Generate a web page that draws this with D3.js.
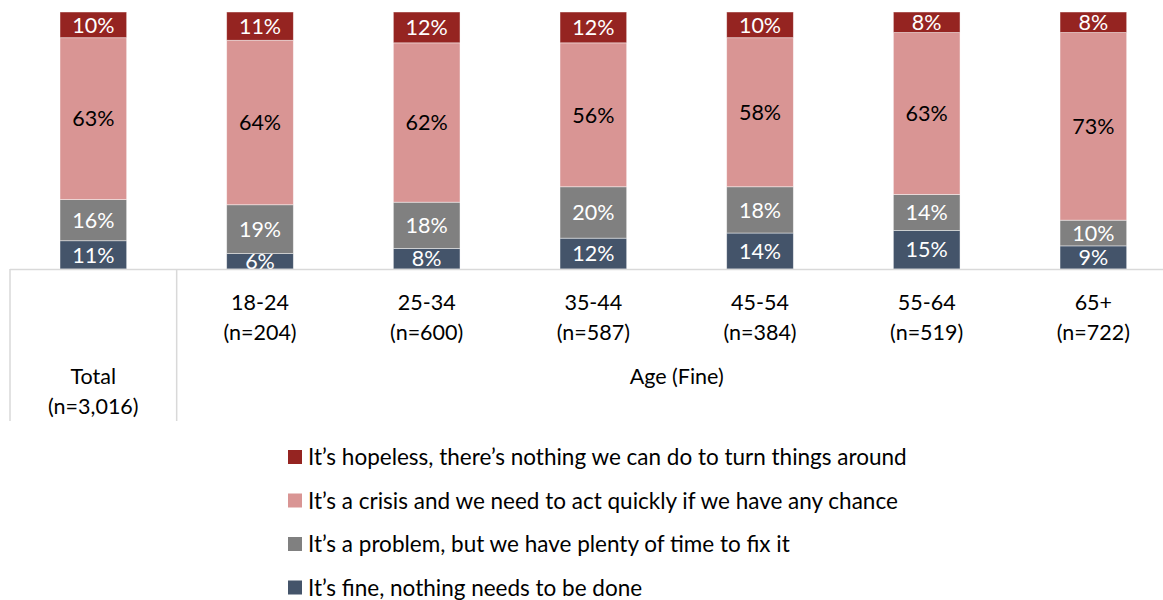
<!DOCTYPE html>
<html>
<head>
<meta charset="utf-8">
<script src="https://cdn.jsdelivr.net/npm/d3@7/dist/d3.min.js"></script>
<style>
  html, body { margin: 0; padding: 0; background: #fff; }
  svg { display: block; font-family: Lato, "Open Sans", sans-serif; }
</style>
</head>
<body>
<svg id="chart" width="1163" height="600"></svg>
<script>
// Category labels (two lines each)
const groups = ["Total", "18-24", "25-34", "35-44", "45-54", "55-64", "65+"];
const sampleSizes = ["(n=3,016)", "(n=204)", "(n=600)", "(n=587)", "(n=384)", "(n=519)", "(n=722)"];

// Series, bottom to top of each stack (percent)
const seriesNames = [
  "It’s fine, nothing needs to be done",
  "It’s a problem, but we have plenty of time to fix it",
  "It’s a crisis and we need to act quickly if we have any chance",
  "It’s hopeless, there’s nothing we can do to turn things around"
];
const fine      = [11, 6, 8, 12, 14, 15, 9];
const problem   = [16, 19, 18, 20, 18, 14, 10];
const crisis    = [63, 64, 62, 56, 58, 63, 73];
const hopeless  = [10, 11, 12, 12, 10, 8, 8];

const colors = ["#44546a", "#808080", "#d99594", "#952421"];
const labelColors = ["#ffffff", "#ffffff", "#000000", "#ffffff"];

const svg = d3.select("#chart");
const plotTop = 12, baseY = 269;

const rows = groups.map((g, i) => ({
  group: g, fine: fine[i], problem: problem[i], crisis: crisis[i], hopeless: hopeless[i]
}));
const keys = ["fine", "problem", "crisis", "hopeless"];
const stacked = d3.stack().keys(keys).offset(d3.stackOffsetExpand)(rows);

const x = d3.scaleBand().domain(groups).range([10, 10 + 166.67 * 7])
  .paddingInner(0.6).paddingOuter(0.3);
const y = d3.scaleLinear().domain([0, 1]).range([baseY, plotTop]);

svg.append("defs").append("clipPath").attr("id", "plotClip")
  .append("rect").attr("x", 0).attr("y", 0).attr("width", 1163).attr("height", baseY);

const plot = svg.append("g").attr("clip-path", "url(#plotClip)");

stacked.forEach((layer, li) => {
  const g = plot.append("g");
  g.selectAll("rect").data(layer).join("rect")
    .attr("x", d => x(d.data.group))
    .attr("width", x.bandwidth())
    .attr("y", d => y(d[1]))
    .attr("height", d => y(d[0]) - y(d[1]))
    .attr("fill", colors[li])
    .attr("stroke", "#ffffff")
    .attr("stroke-opacity", 0.55)
    .attr("stroke-width", 0.8);
  g.selectAll("text").data(layer).join("text")
    .attr("x", d => x(d.data.group) + x.bandwidth() / 2)
    .attr("y", d => (y(d[0]) + y(d[1])) / 2)
    .attr("dy", "0.36em")
    .attr("text-anchor", "middle")
    .attr("font-size", 21.5)
    .attr("fill", labelColors[li])
    .text(d => d.data[keys[li]] + "%");
});

// Category axis frame
const axisG = svg.append("g").attr("stroke", "#d9d9d9").attr("stroke-width", 1.5);
axisG.append("line").attr("x1", 10).attr("x2", 1163).attr("y1", baseY + 0.5).attr("y2", baseY + 0.5);
const ageLeft = x("18-24") - x.step() * x.paddingInner() / 2;
[10, ageLeft].forEach(xv => {
  axisG.append("line").attr("x1", xv).attr("x2", xv).attr("y1", baseY).attr("y2", 421);
});

// Category labels
const labelG = svg.append("g").attr("font-size", 21.5).attr("fill", "#000").attr("text-anchor", "middle");
groups.forEach((g, i) => {
  const cx = x(g) + x.bandwidth() / 2;
  const y1 = i === 0 ? 376 : 302;
  labelG.append("text").attr("x", cx).attr("y", y1).attr("dy", "0.36em").text(g);
  labelG.append("text").attr("x", cx).attr("y", y1 + 30).attr("dy", "0.36em").text(sampleSizes[i]);
});
const ageRight = x.range()[1];
labelG.append("text").attr("x", (ageLeft + ageRight) / 2).attr("y", 376).attr("dy", "0.36em").text("Age (Fine)");

// Legend, top entry is the top of the stack
const legendOrder = [3, 2, 1, 0];
const legend = svg.append("g").attr("font-size", 22.5);
legendOrder.forEach((si, r) => {
  const cy = 457 + r * 43.5;
  legend.append("rect").attr("x", 288).attr("y", cy - 7).attr("width", 14).attr("height", 14).attr("fill", colors[si]);
  legend.append("text").attr("x", 308).attr("y", cy).attr("dy", "0.36em").attr("fill", "#000").text(seriesNames[si]);
});
</script>
</body>
</html>
